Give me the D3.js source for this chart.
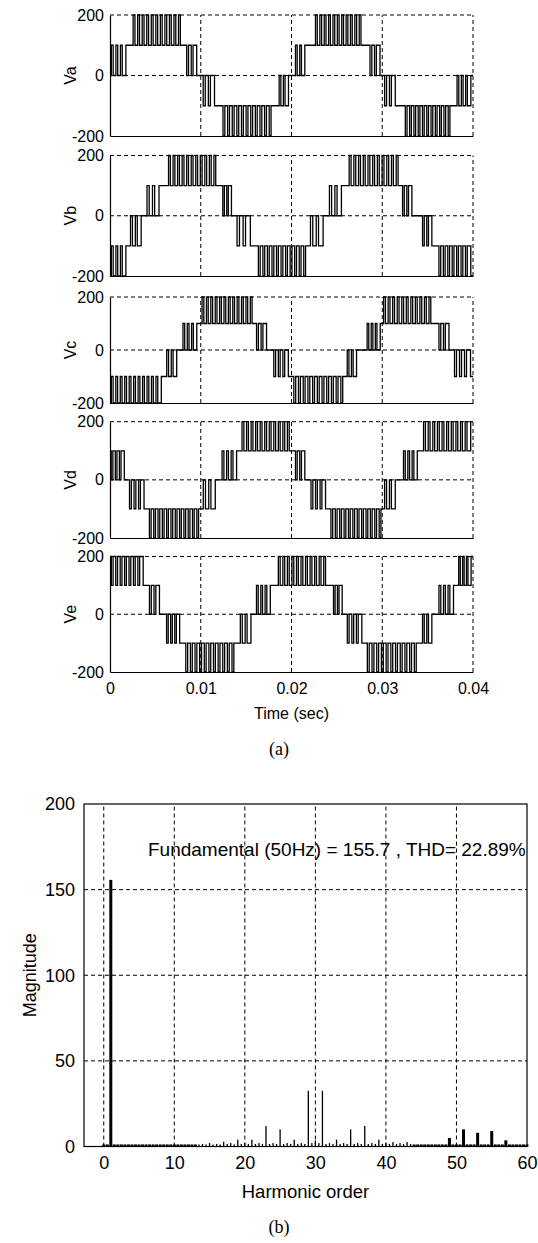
<!DOCTYPE html>
<html>
<head>
<meta charset="utf-8">
<script src="https://cdn.jsdelivr.net/npm/d3@7"></script>
<style>
  body { margin: 0; background: #fff; }
  svg { display: block; }
</style>
</head>
<body>
<svg id="chart" width="538" height="1243"></svg>
<script>
// Switching bands of each phase voltage:
// [start (s), end (s), low level, high level, pulses in the band]
const vaBands = [
    [0.0000, 0.0020, 0, 100, 4],
    [0.0024, 0.0079, 100, 200, 11],
    [0.0083, 0.0098, 0, 100, 3],
    [0.0101, 0.0118, -100, 0, 3],
    [0.0123, 0.0179, -200, -100, 11],
    [0.0185, 0.0199, -100, 0, 3],
    [0.0203, 0.0217, 0, 100, 3],
    [0.0225, 0.0278, 100, 200, 11],
    [0.0285, 0.0300, 0, 100, 3],
    [0.0301, 0.0317, -100, 0, 3],
    [0.0324, 0.0376, -200, -100, 11],
    [0.0381, 0.0400, -100, 0, 4]
];
const vbBands = [
    [0.0000, 0.0020, -200, -100, 4],
    [0.0021, 0.0037, -100, 0, 3],
    [0.0039, 0.0057, 0, 100, 3],
    [0.0063, 0.0118, 100, 200, 11],
    [0.0123, 0.0136, 0, 100, 3],
    [0.0138, 0.0158, -100, 0, 3],
    [0.0162, 0.0217, -200, -100, 11],
    [0.0219, 0.0238, -100, 0, 3],
    [0.0240, 0.0258, 0, 100, 3],
    [0.0262, 0.0319, 100, 200, 11],
    [0.0321, 0.0335, 0, 100, 3],
    [0.0343, 0.0357, -100, 0, 3],
    [0.0361, 0.0400, -200, -100, 8]
];
const vcBands = [
    [0.0000, 0.0059, -200, -100, 12],
    [0.0061, 0.0076, -100, 0, 3],
    [0.0079, 0.0098, 0, 100, 4],
    [0.0100, 0.0158, 100, 200, 12],
    [0.0160, 0.0175, 0, 100, 3],
    [0.0179, 0.0199, -100, 0, 4],
    [0.0201, 0.0258, -200, -100, 11],
    [0.0260, 0.0274, -100, 0, 3],
    [0.0282, 0.0300, 0, 100, 4],
    [0.0300, 0.0355, 100, 200, 11],
    [0.0361, 0.0376, 0, 100, 3],
    [0.0378, 0.0400, -100, 0, 4]
];
const vdBands = [
    [0.0000, 0.0018, 0, 100, 4],
    [0.0020, 0.0040, -100, 0, 4],
    [0.0042, 0.0099, -200, -100, 12],
    [0.0101, 0.0119, -100, 0, 3],
    [0.0122, 0.0142, 0, 100, 4],
    [0.0144, 0.0199, 100, 200, 11],
    [0.0203, 0.0217, 0, 100, 3],
    [0.0220, 0.0240, -100, 0, 4],
    [0.0242, 0.0300, -200, -100, 12],
    [0.0301, 0.0317, -100, 0, 3],
    [0.0322, 0.0341, 0, 100, 4],
    [0.0344, 0.0400, 100, 200, 11]
];
const veBands = [
    [0.0000, 0.0039, 100, 200, 8],
    [0.0042, 0.0057, 0, 100, 3],
    [0.0061, 0.0079, -100, 0, 4],
    [0.0082, 0.0138, -200, -100, 11],
    [0.0142, 0.0158, -100, 0, 3],
    [0.0160, 0.0179, 0, 100, 4],
    [0.0184, 0.0239, 100, 200, 11],
    [0.0245, 0.0258, 0, 100, 3],
    [0.0260, 0.0280, -100, 0, 4],
    [0.0282, 0.0339, -200, -100, 11],
    [0.0343, 0.0357, -100, 0, 3],
    [0.0361, 0.0381, 0, 100, 4],
    [0.0383, 0.0400, 100, 200, 4]
];
const phaseNames = ["Va", "Vb", "Vc", "Vd", "Ve"];
const phaseBands = [vaBands, vbBands, vcBands, vdBands, veBands];
const timeTicks = [0, 0.01, 0.02, 0.03, 0.04];
const voltTicks = [-200, 0, 200];

// Spectrum, one value every half harmonic from 0 to 60
const harmonicMagnitude = [
    1.2, 1.2, 155.7, 1.2, 1.2, 1.2, 1.2, 1.2, 1.2, 1.2,
    1.2, 1.2, 1.2, 1.2, 1.2, 1.2, 1.2, 1.2, 1.2, 1.2,
    1.2, 1.2, 1.2, 1.2, 1.2, 1.2, 1.2, 1.2, 1.5, 1.2,
    2, 1.2, 1.5, 1.2, 2.8, 1.5, 2, 1.2, 4, 1.5,
    2, 1.5, 4, 1.5, 2, 1.5, 12, 1.5, 2, 1.5,
    10, 1.5, 2, 1.5, 4, 1.5, 2, 1.5, 32.5, 2,
    3.5, 2, 32.5, 1.5, 2, 1.5, 4, 1.5, 2, 1.5,
    10, 1.5, 2, 1.5, 12, 1.5, 2, 1.5, 4, 1.5,
    2, 1.5, 2.6, 1.5, 2, 1.5, 2.6, 1.5, 1.2, 1.2,
    1.2, 1.2, 1.2, 1.2, 1.2, 1.2, 1.2, 1.2, 5, 1.2,
    1.2, 1.2, 10, 1.2, 1.2, 1.2, 8, 1.2, 1.2, 1.2,
    9, 1.2, 1.2, 1.2, 3.6, 1.2, 1.2, 1.2, 1.2, 1.2,
    1.2
];
const harmonicOrder = harmonicMagnitude.map((m, i) => i / 2);
const harmonicTicks = [0, 10, 20, 30, 40, 50, 60];
const magnitudeTicks = [0, 50, 100, 150, 200];
const fundamentalNote = "Fundamental (50Hz) = 155.7 , THD= 22.89%";

const sans = "'Liberation Sans', Arial, sans-serif";
const serif = "'Liberation Serif', 'Times New Roman', serif";
const svg = d3.select("#chart");

// ---------- (a) phase voltages ----------
const panelTop = [15, 155.5, 297, 421.7, 556.5];
const panelBottom = [136, 276, 403, 538, 672];
const x = d3.scaleLinear().domain([0, 0.04]).range([110, 473]);
const duty = 0.4;

// turn switching bands into a stepped trace: narrow pulses away from the base level
function tracePoints(bands) {
    const pts = [];
    const common = (a, b) => [a[2], a[3]].find(v => v === b[2] || v === b[3]);
    bands.forEach((b, i) => {
        const [t0, t1, lo, hi, n] = b;
        const other = v => (v === lo ? hi : lo);
        const prev = bands[i - 1], next = bands[i + 1];
        const start = prev ? common(b, prev) : other(common(b, next));
        const end = next ? common(b, next) : other(common(b, prev));
        const p = (t1 - t0) / n;
        pts.push([t0, start]);
        for (let k = 0; k < n; k++) {
            const c = t0 + (k + 0.5) * p;
            if (k === n - 1 && start !== end) {
                pts.push([c, start], [c, end]);
            } else {
                const a = c - duty * p / 2, z = c + duty * p / 2;
                pts.push([a, start], [a, other(start)], [z, other(start)], [z, start]);
            }
        }
        pts.push([t1, end]);
    });
    return pts;
}

phaseNames.forEach((name, i) => {
    const y = d3.scaleLinear().domain([-200, 200]).range([panelBottom[i], panelTop[i]]);
    const g = svg.append("g");

    g.selectAll(".vgrid").data(timeTicks.slice(1)).enter().append("line")
        .attr("x1", d => x(d)).attr("x2", d => x(d))
        .attr("y1", y(-200)).attr("y2", y(200))
        .attr("stroke", "#000").attr("stroke-width", 1).attr("stroke-dasharray", "4,3");
    g.selectAll(".hgrid").data(voltTicks.slice(1)).enter().append("line")
        .attr("x1", x(0)).attr("x2", x(0.04))
        .attr("y1", d => y(d)).attr("y2", d => y(d))
        .attr("stroke", "#000").attr("stroke-width", 1).attr("stroke-dasharray", "4,3");

    const line = d3.line().x(d => x(d[0])).y(d => y(d[1]));
    g.append("path")
        .attr("d", line(tracePoints(phaseBands[i])))
        .attr("fill", "none").attr("stroke", "#000").attr("stroke-width", 1.3);

    const yAxis = g.append("g")
        .attr("transform", `translate(${x(0)},0)`)
        .call(d3.axisLeft(y).tickValues(voltTicks).tickSize(0).tickPadding(6).tickFormat(d => String(d)));
    const xAxis = g.append("g")
        .attr("transform", `translate(0,${y(-200)})`)
        .call(d3.axisBottom(x).tickValues(timeTicks).tickSize(0).tickPadding(11)
            .tickFormat(i === 4 ? d => String(d) : ""));
    [yAxis, xAxis].forEach(a => {
        a.attr("font-family", sans).attr("font-size", 16);
        a.select(".domain").attr("stroke", "#000").attr("stroke-width", 1.2);
        a.selectAll("text").attr("fill", "#000");
    });

    g.append("text")
        .attr("transform", `translate(76,${(panelTop[i] + panelBottom[i]) / 2}) rotate(-90)`)
        .attr("text-anchor", "middle")
        .attr("font-family", sans).attr("font-size", 16)
        .text(name);
});

svg.append("text")
    .attr("x", (x(0) + x(0.04)) / 2).attr("y", 719)
    .attr("text-anchor", "middle")
    .attr("font-family", sans).attr("font-size", 16)
    .text("Time (sec)");
svg.append("text")
    .attr("x", 279).attr("y", 755)
    .attr("text-anchor", "middle")
    .attr("font-family", serif).attr("font-size", 18)
    .text("(a)");

// ---------- (b) harmonic spectrum ----------
const hx = d3.scaleLinear().domain([-2.8, 60]).range([84, 527]);
const hy = d3.scaleLinear().domain([0, 200]).range([1146.5, 804]);
const sg = svg.append("g");

sg.selectAll(".vgrid").data(harmonicTicks.slice(0, -1)).enter().append("line")
    .attr("x1", d => hx(d)).attr("x2", d => hx(d))
    .attr("y1", hy(0)).attr("y2", hy(200))
    .attr("stroke", "#000").attr("stroke-width", 1).attr("stroke-dasharray", "4,3");
sg.selectAll(".hgrid").data(magnitudeTicks.slice(1, -1)).enter().append("line")
    .attr("x1", hx(-2.8)).attr("x2", hx(60))
    .attr("y1", d => hy(d)).attr("y2", d => hy(d))
    .attr("stroke", "#000").attr("stroke-width", 1).attr("stroke-dasharray", "4,3");

const spectrum = harmonicOrder.map((o, i) => ({ order: o, mag: harmonicMagnitude[i] }));
const barWidth = d => (d.order <= 13 || d.order >= 44 || d.mag > 100 ? 3 : 1.3);
sg.selectAll(".bar").data(spectrum).enter().append("rect")
    .attr("x", d => hx(d.order) - barWidth(d) / 2)
    .attr("width", barWidth)
    .attr("y", d => hy(d.mag))
    .attr("height", d => hy(0) - hy(d.mag))
    .attr("fill", "#000");

sg.append("rect")
    .attr("x", hx(-2.8)).attr("y", hy(200))
    .attr("width", hx(60) - hx(-2.8)).attr("height", hy(0) - hy(200))
    .attr("fill", "none").attr("stroke", "#000").attr("stroke-width", 1.2);

const hxAxis = sg.append("g")
    .attr("transform", `translate(0,${hy(0)})`)
    .call(d3.axisBottom(hx).tickValues(harmonicTicks).tickSize(0).tickPadding(10).tickFormat(d => String(d)));
const hyAxis = sg.append("g")
    .attr("transform", `translate(${hx(-2.8)},0)`)
    .call(d3.axisLeft(hy).tickValues(magnitudeTicks).tickSize(0).tickPadding(9).tickFormat(d => String(d)));
[hxAxis, hyAxis].forEach(a => {
    a.attr("font-family", sans).attr("font-size", 18);
    a.select(".domain").remove();
    a.selectAll("text").attr("fill", "#000");
});

sg.append("text")
    .attr("x", 148).attr("y", 856)
    .attr("font-family", sans).attr("font-size", 19)
    .text(fundamentalNote);
sg.append("text")
    .attr("x", (hx(-2.8) + hx(60)) / 2).attr("y", 1198)
    .attr("text-anchor", "middle")
    .attr("font-family", sans).attr("font-size", 18.5)
    .text("Harmonic order");
sg.append("text")
    .attr("transform", `translate(36,${(hy(0) + hy(200)) / 2}) rotate(-90)`)
    .attr("text-anchor", "middle")
    .attr("font-family", sans).attr("font-size", 18)
    .text("Magnitude");
svg.append("text")
    .attr("x", 279).attr("y", 1233)
    .attr("text-anchor", "middle")
    .attr("font-family", serif).attr("font-size", 18)
    .text("(b)");
</script>
</body>
</html>
